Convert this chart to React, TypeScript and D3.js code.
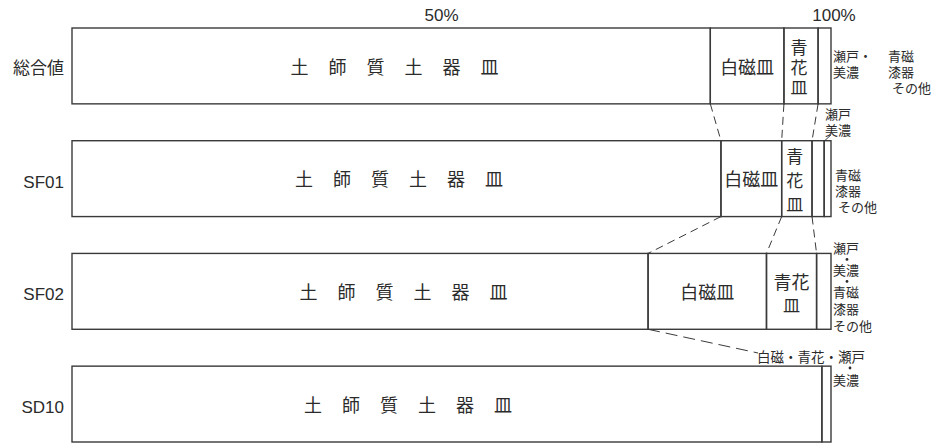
import React from "react";
import * as d3 from "d3";

const categories = ["総合値", "SF01", "SF02", "SD10"];
const seriesKeys = ["土師質土器皿", "白磁皿", "青花皿", "瀬戸・美濃", "青磁・漆器・その他"];
const hajiShare = [84.1, 85.5, 75.9, 98.8];
const hakujiShare = [9.7, 8.0, 15.6, 0];
const seikaShare = [4.5, 4.0, 6.6, 0];
const setoShare = [1.7, 1.6, 1.9, 1.2];
const seijiShare = [0, 0.9, 0, 0];
const tickValues = [50, 100];
const tickLabels = ["50%", "100%"];
const hajiChars = ["土", "師", "質", "土", "器", "皿"];

const W = 937;
const H = 443;
const JP = "'Noto Sans CJK JP', 'Noto Sans', sans-serif";
const LAT = "'Liberation Sans', Arial, sans-serif";
const INK = "#2b2b2b";
const LINE = "#3a3a3a";
const SMALL = 13;

type Line = { t: string; cy: number; x: number; size?: number; anchor?: string };

export default function App() {
  const rows = categories.map((c, i) => ({
    cat: c,
    [seriesKeys[0]]: hajiShare[i],
    [seriesKeys[1]]: hakujiShare[i],
    [seriesKeys[2]]: seikaShare[i],
    [seriesKeys[3]]: setoShare[i],
    [seriesKeys[4]]: seijiShare[i],
  }));
  const stacked = d3.stack<any>().keys(seriesKeys)(rows);
  const x = d3.scaleLinear().domain([0, 100]).range([72, 831]);
  const y = d3.scaleBand<string>().domain(categories).range([28, 442]).paddingInner(0.327);
  const bw = y.bandwidth();
  const top = (i: number) => y(categories[i]) as number;
  const bot = (i: number) => top(i) + bw;
  const mid = (i: number) => top(i) + bw / 2;
  const cum = (k: number, i: number) => stacked[k][i][1];

  const jp = (txt: string, tx: number, cy: number, size: number, anchor = "middle", key?: string) => (
    <text key={key ?? `${txt}-${tx}-${cy}`} x={tx} y={cy + size * 0.37} fontFamily={JP} fontSize={size} fill={INK}
      textAnchor={anchor}>{txt}</text>
  );

  const multi = (lines: Line[], key: string, size = SMALL) => (
    <text key={key} fontFamily={JP} fontSize={size} fill={INK}>
      {lines.map((l, j) => (
        <tspan key={j} x={l.x} y={l.cy + (l.size ?? size) * 0.37} fontSize={l.size ?? size}
          textAnchor={l.anchor ?? "start"}>{l.t}</tspan>
      ))}
    </text>
  );

  const dot = (cx: number, cy: number, key: string) => <circle key={key} cx={cx} cy={cy} r={1.4} fill={INK} />;

  const connectors: JSX.Element[] = [];
  [0, 1].forEach((i) => {
    [0, 1, 2].forEach((k) => {
      connectors.push(
        <line key={`c${i}-${k}`} x1={x(cum(k, i))} y1={bot(i)} x2={x(cum(k, i + 1))} y2={top(i + 1)}
          stroke={LINE} strokeWidth={1} strokeDasharray="8 5" />
      );
    });
  });

  const rx = x(100);

  return (
    <svg width={W} height={H} style={{ position: "absolute", left: 0, top: 0, background: "#fff" }}>
      <rect width={W} height={H} fill="#fff" />
      {tickValues.map((t, i) => (
        <text key={t} x={x(t) + (t === 50 ? -10 : 3)} y={21} fontFamily={LAT} fontSize={17} fill={INK}
          textAnchor="middle">{tickLabels[i]}</text>
      ))}
      {categories.map((c, i) =>
        i === 0 ? jp(c, 64, mid(i) + 2, 17, "end", `r${i}`) : (
          <text key={`r${i}`} x={64} y={mid(i) + 9} fontFamily={LAT} fontSize={17} fill={INK}
            textAnchor="end">{c}</text>
        )
      )}
      {connectors}
      <line x1={x(cum(0, 2))} y1={bot(2)} x2={758} y2={353} stroke={LINE} strokeWidth={1} strokeDasharray="12 6" />
      {stacked.map((s, k) =>
        s.map((d, i) => {
          const v = d[1] - d[0];
          if (v <= 0) return null;
          return (
            <rect key={`b${k}-${i}`} x={x(d[0])} y={top(i)} width={x(d[1]) - x(d[0])} height={bw}
              fill="none" stroke={LINE} strokeWidth={1.4} />
          );
        })
      )}
      {categories.map((c, i) => {
        const cx = x(42.5) + i * 4.5;
        return hajiChars.map((ch, j) =>
          jp(ch, cx + (j - 2.5) * 38, mid(i) + 1, 18, "middle", `h${i}-${j}`)
        );
      })}
      {categories.map((c, i) =>
        hakujiShare[i] > 0
          ? jp("白磁皿", (x(stacked[1][i][0]) + x(stacked[1][i][1])) / 2, mid(i) + 1, 18, "middle", `w${i}`)
          : null
      )}
      {[0, 1].map((i) => {
        const cx = (x(stacked[2][i][0]) + x(stacked[2][i][1])) / 2 - 2;
        const gap = i === 0 ? 20 : 24;
        return multi(
          ["青", "花", "皿"].map((ch, j) => ({ t: ch, x: cx, cy: mid(i) + 2 + (j - 1) * gap, anchor: "middle" })),
          `s${i}`, 17
        );
      })}
      {(() => {
        const cx = (x(stacked[2][2][0]) + x(stacked[2][2][1])) / 2;
        return multi([
          { t: "青花", x: cx, cy: mid(2) - 9, anchor: "middle", size: 18 },
          { t: "皿", x: cx, cy: mid(2) + 14, anchor: "middle", size: 17 },
        ], "s2", 17);
      })()}
      {multi([
        { t: "瀬戸・", x: rx + 2, cy: top(0) + 28 },
        { t: "美濃", x: rx + 2, cy: top(0) + 44 },
      ], "a1")}
      {multi([
        { t: "青磁", x: rx + 57, cy: top(0) + 28 },
        { t: "漆器", x: rx + 57, cy: top(0) + 44 },
        { t: "その他", x: rx + 61, cy: top(0) + 60 },
      ], "a2")}
      {multi([
        { t: "瀬戸", x: rx - 6, cy: top(1) - 27 },
        { t: "美濃", x: rx - 6, cy: top(1) - 11 },
      ], "b1")}
      <line x1={x(cum(3, 1)) + 0.5} y1={top(1)} x2={x(cum(3, 1)) + 7} y2={top(1) - 6} stroke={LINE} strokeWidth={1} />
      {multi([
        { t: "青磁", x: rx + 4, cy: top(1) + 34 },
        { t: "漆器", x: rx + 4, cy: top(1) + 50 },
        { t: "その他", x: rx + 7, cy: top(1) + 66 },
      ], "b2")}
      {multi([
        { t: "瀬戸", x: rx + 2, cy: top(2) - 5 },
        { t: "美濃", x: rx + 2, cy: top(2) + 17 },
        { t: "青磁", x: rx + 2, cy: top(2) + 39 },
        { t: "漆器", x: rx + 2, cy: top(2) + 56 },
        { t: "その他", x: rx + 2, cy: top(2) + 73 },
      ], "c1")}
      {dot(rx + 16, top(2) + 6, "cd1")}
      {dot(rx + 16, top(2) + 28, "cd2")}
      {multi([
        { t: "白磁・青花・瀬戸", x: rx + 34, cy: 357, anchor: "end", size: 13.5 },
        { t: "美濃", x: rx + 2, cy: 380 },
      ], "d1")}
      {dot(rx + 19, 368, "dd1")}
    </svg>
  );
}
